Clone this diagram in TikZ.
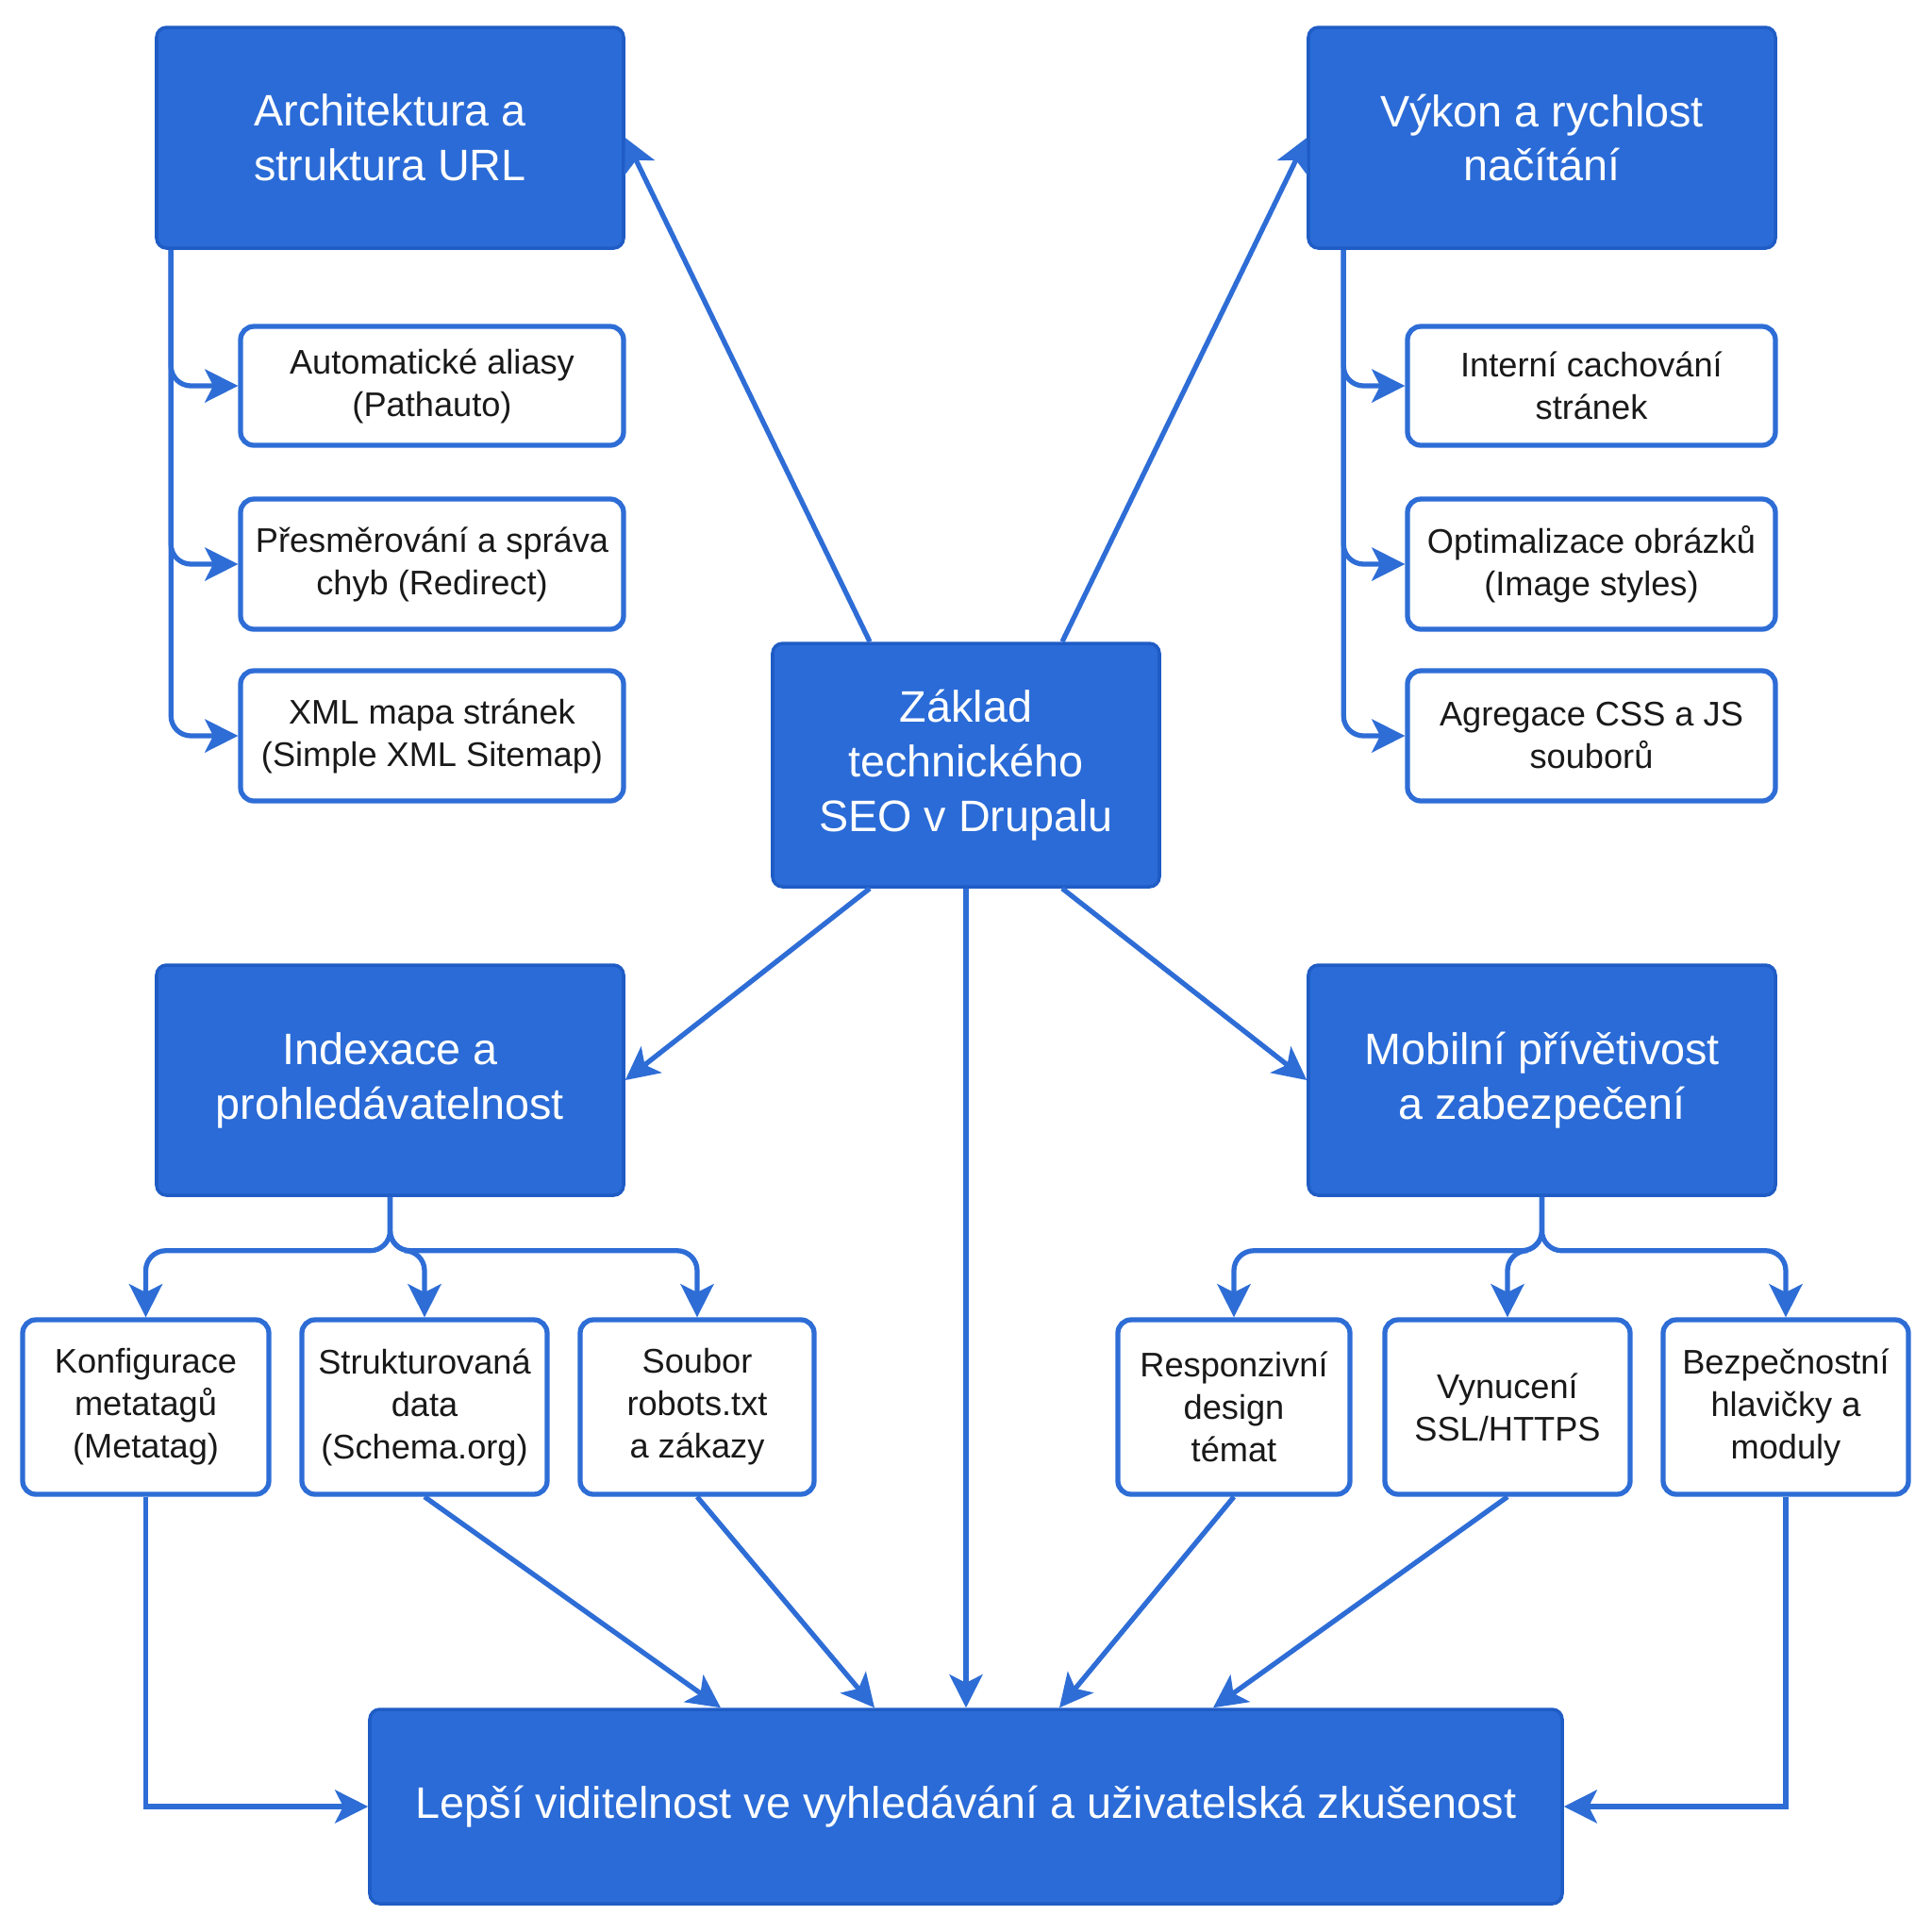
\documentclass[tikz,border=0pt]{standalone}
\usepackage{fontspec}
\setmainfont{Liberation Sans}
\usepackage{tikz}
\usetikzlibrary{arrows.meta}

\definecolor{seoblue}{HTML}{2A6BD7}
\definecolor{seoedge}{HTML}{1F5CC5}
\definecolor{seoline}{HTML}{2E6DD6}

\begin{document}
\begin{tikzpicture}[
  every node/.style={font=\fontsize{10.3pt}{12.8pt}\selectfont},
  mainbox/.style={draw=seoedge, line width=1pt, fill=seoblue, rounded corners=3pt, text=white, align=center, inner sep=0pt, font=\fontsize{13.3pt}{16.5pt}\selectfont},
  subbox/.style={draw=seoline, line width=1.5pt, fill=white, rounded corners=4pt, text=black!90, align=center, inner sep=0pt},
  link/.style={draw=seoline, line width=1.5pt, -{Stealth[length=10pt, width=10pt, inset=2.5pt]}}
]
\useasboundingbox[fill=white] (0,0) rectangle (20.48,-20.48);
% main topics
\node[mainbox, minimum width=4.95cm, minimum height=2.34cm] (arch) at (4.135,-1.46) {Architektura a\\struktura URL};
\node[mainbox, minimum width=4.95cm, minimum height=2.34cm] (vykon) at (16.345,-1.46) {Výkon a rychlost\\načítání};
\node[mainbox, minimum width=4.10cm, minimum height=2.58cm] (zaklad) at (10.24,-8.11) {Základ\\technického\\SEO v Drupalu};
\node[mainbox, minimum width=4.95cm, minimum height=2.44cm] (index) at (4.135,-11.45) {Indexace a\\prohledávatelnost};
\node[mainbox, minimum width=4.95cm, minimum height=2.44cm] (mobil) at (16.345,-11.45) {Mobilní přívětivost\\a zabezpečení};
\node[mainbox, minimum width=12.64cm, minimum height=2.06cm] (vysledek) at (10.24,-19.15) {Lepší viditelnost ve vyhledávání a uživatelská zkušenost};
% left column
\node[subbox, minimum width=4.06cm, minimum height=1.26cm] (alias) at (4.58,-4.09) {Automatické aliasy\\(Pathauto)};
\node[subbox, minimum width=4.06cm, minimum height=1.38cm] (redir) at (4.58,-5.98) {Přesměrování a správa\\chyb (Redirect)};
\node[subbox, minimum width=4.06cm, minimum height=1.38cm] (sitemap) at (4.58,-7.80) {XML mapa stránek\\(Simple XML Sitemap)};
% right column
\node[subbox, minimum width=3.90cm, minimum height=1.26cm] (cache) at (16.87,-4.09) {Interní cachování\\stránek};
\node[subbox, minimum width=3.90cm, minimum height=1.38cm] (obrazky) at (16.87,-5.98) {Optimalizace obrázků\\(Image styles)};
\node[subbox, minimum width=3.90cm, minimum height=1.38cm] (agreg) at (16.87,-7.80) {Agregace CSS a JS\\souborů};
% bottom row
\node[subbox, minimum width=2.61cm, minimum height=1.85cm] (metatag) at (1.545,-14.915) {Konfigurace\\metatagů\\(Metatag)};
\node[subbox, minimum width=2.60cm, minimum height=1.85cm] (schema) at (4.50,-14.915) {Strukturovaná\\data\\(Schema.org)};
\node[subbox, minimum width=2.48cm, minimum height=1.85cm] (robots) at (7.39,-14.915) {Soubor\\robots.txt\\a zákazy};
\node[subbox, minimum width=2.46cm, minimum height=1.85cm] (respons) at (13.08,-14.915) {Responzivní\\design\\témat};
\node[subbox, minimum width=2.60cm, minimum height=1.85cm] (https) at (15.98,-14.915) {Vynucení\\SSL/HTTPS};
\node[subbox, minimum width=2.60cm, minimum height=1.85cm] (hlavicky) at (18.93,-14.915) {Bezpečnostní\\hlavičky a\\moduly};

% from the core
\draw[link] ([xshift=-1.02cm]zaklad.north) -- (arch.east);
\draw[link] ([xshift=1.02cm]zaklad.north) -- (vykon.west);
\draw[link] ([xshift=-1.02cm]zaklad.south) -- (index.east);
\draw[link] ([xshift=1.02cm]zaklad.south) -- (mobil.west);
\draw[link] (zaklad.south) -- (vysledek.north);

% branches
\foreach \sub in {alias,redir,sitemap}
  \draw[link, rounded corners=6pt] ([xshift=0.17cm]arch.south west) |- (\sub.west);
\foreach \sub in {cache,obrazky,agreg}
  \draw[link, rounded corners=6pt] ([xshift=0.39cm]vykon.south west) |- (\sub.west);
\foreach \sub in {metatag,schema,robots}
  \draw[link, rounded corners=6pt] (index.south) -- ++(0,-0.57) -| (\sub.north);
\foreach \sub in {respons,https,hlavicky}
  \draw[link, rounded corners=6pt] (mobil.south) -- ++(0,-0.57) -| (\sub.north);

% into the result
\draw[link] (metatag.south) |- (vysledek.west);
\draw[link] (hlavicky.south) |- (vysledek.east);
\draw[link] (schema.south) -- ([xshift=-2.60cm]vysledek.north);
\draw[link] (robots.south) -- ([xshift=-0.97cm]vysledek.north);
\draw[link] (respons.south) -- ([xshift=0.99cm]vysledek.north);
\draw[link] (https.south) -- ([xshift=2.62cm]vysledek.north);
\end{tikzpicture}
\end{document}
